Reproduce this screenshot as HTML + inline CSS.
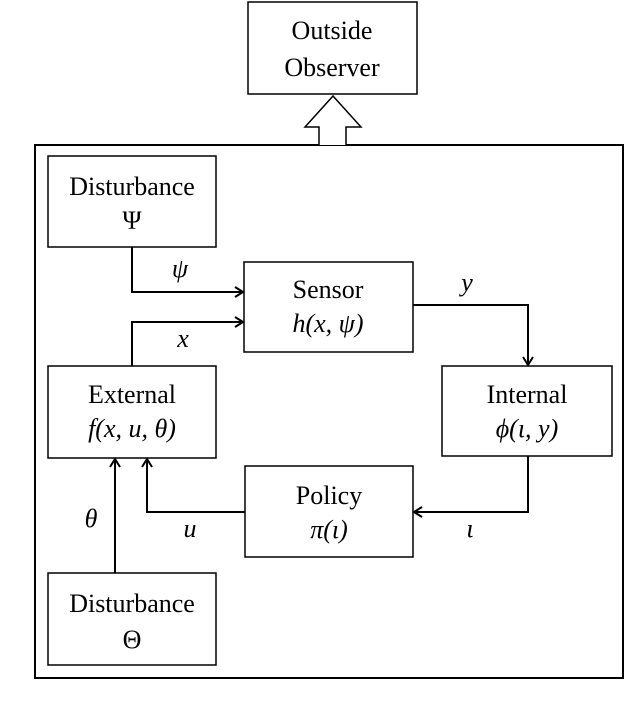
<!DOCTYPE html>
<html><head><style>html,body{margin:0;padding:0;background:#fff}</style></head><body>
<svg width="638" height="712" xmlns="http://www.w3.org/2000/svg" font-family="Liberation Serif, serif" font-size="26" text-anchor="middle">
<defs><marker id="a" markerWidth="12" markerHeight="12" refX="10" refY="6" orient="auto" markerUnits="userSpaceOnUse"><path d="M2,1 L10,6 L2,11" fill="none" stroke="#000" stroke-width="2"/></marker></defs>
<g fill="none" stroke="#000" stroke-width="1.5">
<rect x="248" y="2" width="169" height="92"/>
<rect x="48" y="156" width="168" height="91"/>
<rect x="244" y="262" width="169" height="90"/>
<rect x="48" y="366" width="168" height="92"/>
<rect x="442" y="366" width="170" height="90"/>
<rect x="245" y="466" width="168" height="91"/>
<rect x="48" y="573" width="168" height="92"/>
</g>
<rect x="35" y="145" width="588" height="533" fill="none" stroke="#000" stroke-width="2"/>
<path d="M319,145 L319,127 L305,127 L333,96 L361,127 L346,127 L346,145" fill="#fff" stroke="#000" stroke-width="1.5"/>
<g fill="none" stroke="#000" stroke-width="2" marker-end="url(#a)">
<path d="M132,247 V292 H243"/>
<path d="M132,366 V322 H243"/>
<path d="M413,305 H528 V365"/>
<path d="M528,456 V512 H414"/>
<path d="M245,512 H147 V459"/>
<path d="M115,573 V459"/>
</g>
<text x="332" y="39">Outside</text><text x="332" y="76">Observer</text>
<text x="132" y="195">Disturbance</text><text x="132" y="229">Ψ</text>
<text x="328" y="298">Sensor</text><text x="328" y="332" font-style="italic">h(x, ψ)</text>
<text x="132" y="403">External</text><text x="132" y="437" font-style="italic">f(x, u, θ)</text>
<text x="527" y="403">Internal</text><text x="527" y="437" font-style="italic">ϕ(ι, y)</text>
<text x="329" y="504">Policy</text><text x="329" y="538" font-style="italic">π(ι)</text>
<text x="132" y="612">Disturbance</text><text x="132" y="648">Θ</text>
<g font-style="italic">
<text x="180" y="277">ψ</text><text x="183" y="347">x</text><text x="467" y="291">y</text>
<text x="470" y="537">ι</text><text x="190" y="537">u</text><text x="91" y="527">θ</text>
</g>
</svg>
</body></html>
